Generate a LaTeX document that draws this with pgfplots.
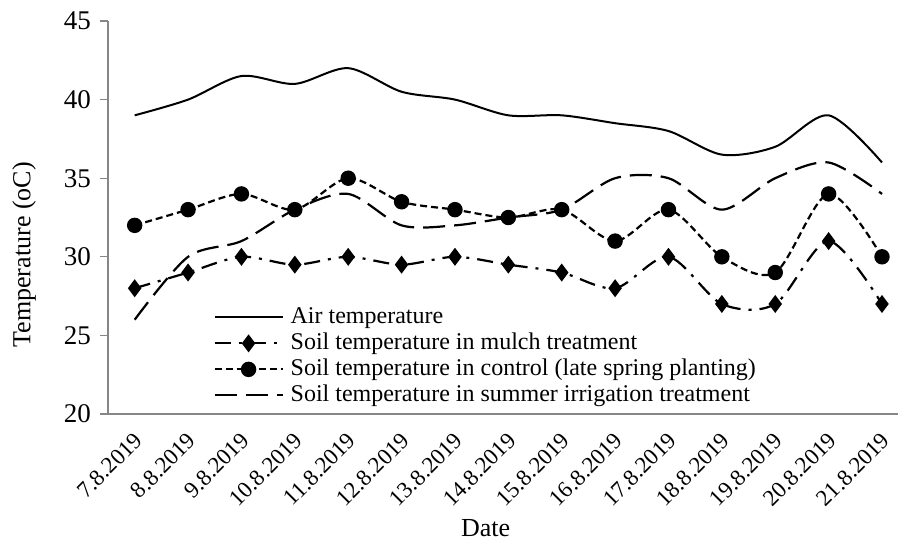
\documentclass[border=0pt]{standalone}
\usepackage{pgfplots}
\pgfplotsset{compat=1.18}
\usepackage{fontspec}
\setmainfont{Liberation Serif}
\definecolor{axgray}{RGB}{134,134,134}

\begin{document}
\begin{tikzpicture}
\begin{axis}[name=ax,
  scale only axis, width=395pt, height=196.5pt,
  xmin=-0.5, xmax=14.3, ymin=20, ymax=45,
  axis x line*=bottom, axis y line*=left,
  axis line style={axgray, line width=0.6pt},
  xtick={0,...,14},
  xticklabels={7.8.2019,8.8.2019,9.8.2019,10.8.2019,11.8.2019,12.8.2019,13.8.2019,14.8.2019,15.8.2019,16.8.2019,17.8.2019,18.8.2019,19.8.2019,20.8.2019,21.8.2019},
  x tick style={draw=none},
  ytick={20,25,...,45},
  y tick style={axgray, line width=0.6pt},
  tick align=outside, major tick length=4pt,
  /pgf/number format/assume math mode=true,
  yticklabel style={font=\fontsize{13.5}{15}\selectfont, xshift=-1pt},
  xticklabel style={font=\fontsize{11.5}{13}\selectfont, xshift=-1pt, yshift=-4.5pt, rotate=45, anchor=north east, inner sep=0pt},
  xlabel={Date}, ylabel={Temperature (oC)},
  label style={font=\fontsize{13}{15}\selectfont},
  xlabel style={at={(axis description cs:0.478,0)}, anchor=north, yshift=-49pt},
  ylabel style={at={(axis description cs:-0.1063,0.405)}, anchor=center},
  legend style={draw=none, fill=none, at={(axis description cs:0.133,0.28)}, anchor=north west,
    font=\fontsize{12}{14}\selectfont, inner sep=0pt, row sep=0pt, column sep=2.5pt,
    nodes={inner sep=1pt, text height=8.5pt, text depth=2.5pt}},
  legend cell align=left,
  legend image code/.code={\draw[mark repeat=2, mark phase=2, #1] plot coordinates {(0pt,0pt) (17pt,0pt) (34pt,0pt)};},
]
\addplot[black, line width=1pt, smooth] coordinates {
(0,39) (1,40) (2,41.5) (3,41) (4,42) (5,40.5) (6,40) (7,39) (8,39) (9,38.5) (10,38) (11,36.5) (12,37) (13,39) (14,36)};
\addlegendentry{Air temperature}
\addplot[black, line width=1.1pt, smooth, dash pattern=on 8pt off 4pt on 1.5pt off 4pt, mark=diamond*, mark size=3.6pt, mark options={solid}] coordinates {
(0,28) (1,29) (2,30) (3,29.5) (4,30) (5,29.5) (6,30) (7,29.5) (8,29) (9,28) (10,30) (11,27) (12,27) (13,31) (14,27)};
\addlegendentry{Soil temperature in mulch treatment}
\addplot[black, line width=1.1pt, smooth, dash pattern=on 3.5pt off 2pt, mark=*, mark size=3.3pt, mark options={solid}] coordinates {
(0,32) (1,33) (2,34) (3,33) (4,35) (5,33.5) (6,33) (7,32.5) (8,33) (9,31) (10,33) (11,30) (12,29) (13,34) (14,30)};
\addlegendentry{Soil temperature in control (late spring planting)}
\addplot[black, line width=1.1pt, smooth, dash pattern=on 11pt off 4.5pt] coordinates {
(0,26) (1,30) (2,31) (3,33) (4,34) (5,32) (6,32) (7,32.5) (8,33) (9,35) (10,35) (11,33) (12,35) (13,36) (14,34)};
\addlegendentry{Soil temperature in summer irrigation treatment}
\end{axis}
\pgfresetboundingbox
\path[use as bounding box] ([shift={(-54pt,-64pt)}]ax.south west) rectangle ([shift={(0pt,10.5pt)}]ax.north east);
\end{tikzpicture}
\end{document}
